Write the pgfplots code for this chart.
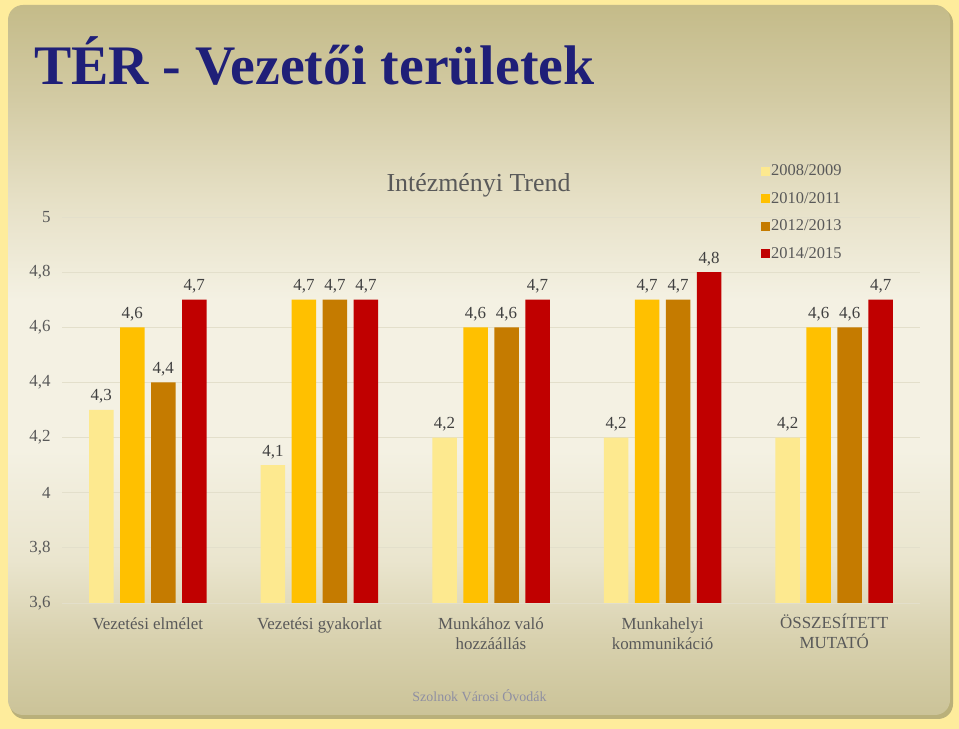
\documentclass[border=0pt]{standalone}
\usepackage{pgfplots}
\pgfplotsset{compat=1.18}
\usepackage{fontspec}
\setmainfont{Liberation Serif}
\definecolor{outerbg}{HTML}{FEEC9C}
\definecolor{shadowc}{HTML}{B9B07A}
\definecolor{pA}{HTML}{CBC398}
\definecolor{pB}{HTML}{D8D1AE}
\definecolor{pC}{HTML}{EAE5CE}
\definecolor{pD}{HTML}{F4F1E3}
\definecolor{pE}{HTML}{F4F1E3}
\definecolor{pF}{HTML}{E6E0C6}
\definecolor{pG}{HTML}{D3CBA4}
\definecolor{pH}{HTML}{C4BB89}
\pgfdeclareverticalshading{panel}{100bp}{color(0bp)=(pA); color(25bp)=(pA); color(30.3bp)=(pB); color(35.9bp)=(pC); color(43.7bp)=(pD); color(54.2bp)=(pE); color(61.3bp)=(pF); color(68.3bp)=(pG); color(75bp)=(pH); color(100bp)=(pH)}
\definecolor{cA}{HTML}{FDE98F}
\definecolor{cB}{HTML}{FFC000}
\definecolor{cC}{HTML}{C57B00}
\definecolor{cD}{HTML}{C00000}
\definecolor{titleblue}{HTML}{1F1F78}
\definecolor{txt}{HTML}{595959}
\definecolor{lbl}{HTML}{404040}
\definecolor{gridc}{HTML}{E3DFCB}
\definecolor{footc}{HTML}{8F8FA2}
\begin{document}
\begin{tikzpicture}[x=1bp,y=1bp]
\fill[outerbg] (0,0) rectangle (959,729);
\fill[shadowc, rounded corners=15bp] (10,10) rectangle (953,721);
\shade[shading=panel, rounded corners=15bp] (8,14) rectangle (950,724);
\node[anchor=base west, inner sep=0pt, text=titleblue, font=\fontsize{56}{60}\selectfont\bfseries] at (34,644) {TÉR - Vezetői területek};
\node[anchor=base, inner sep=0pt, text=txt, font=\fontsize{26}{30}\selectfont] at (478.5,537) {Intézményi Trend};
\node[anchor=base, inner sep=0pt, text=footc, font=\fontsize{14}{16}\selectfont] at (479.5,27) {Szolnok Városi Óvodák};
\begin{axis}[
  at={(62bp,126bp)}, anchor=south west,
  width=858bp, height=386bp, scale only axis,
  xmin=-0.5, xmax=4.5, ymin=3.6, ymax=5,
  axis line style={draw=none},
  major tick length=0pt,
  ytick={3.6,3.8,4,4.2,4.4,4.6,4.8,5},
  ymajorgrids, grid style={gridc, line width=0.8bp},
  /pgf/number format/assume math mode=true,
  /pgf/number format/use comma,
  /pgf/number format/fixed,
  /pgf/number format/precision=1,
  yticklabel style={text=txt, font=\fontsize{17}{20}\selectfont, xshift=-8bp},
  xtick={0,1,2,3,4},
  xticklabels={Vezetési elmélet, Vezetési gyakorlat, {Munkához való\\hozzáállás}, {Munkahelyi\\kommunikáció}, {\smash{Ö}SSZES\smash{Í}TETT\\MUTATÓ}},
  xticklabel style={text=txt, font=\fontsize{17}{20}\selectfont, align=center, anchor=north, yshift=-11bp},
  ybar, bar width=24.5bp,
  nodes near coords,
  every node near coord/.append style={text=lbl, font=\fontsize{17}{20}\selectfont, yshift=3bp, /pgf/number format/assume math mode=true, /pgf/number format/use comma, /pgf/number format/fixed, /pgf/number format/precision=1, /pgf/number format/fixed zerofill},
  legend image code/.code={\fill[#1] (0bp,-4.5bp) rectangle (9bp,4.5bp);},
  legend cell align=left,
  legend style={at={(0.8106,1.1477)}, anchor=north west, draw=none, fill=none,
    font=\fontsize{16.5}{19}\selectfont, text=txt, row sep=9.5bp,
    nodes={inner sep=1.5bp, text height=12bp, text depth=3bp}},
]
\addplot[fill=cA, draw=none, bar shift=-46.5bp] coordinates {(0,4.3) (1,4.1) (2,4.2) (3,4.2) (4,4.2)};
\addlegendentry{2008/2009}
\addplot[fill=cB, draw=none, bar shift=-15.5bp] coordinates {(0,4.6) (1,4.7) (2,4.6) (3,4.7) (4,4.6)};
\addlegendentry{2010/2011}
\addplot[fill=cC, draw=none, bar shift=15.5bp] coordinates {(0,4.4) (1,4.7) (2,4.6) (3,4.7) (4,4.6)};
\addlegendentry{2012/2013}
\addplot[fill=cD, draw=none, bar shift=46.5bp] coordinates {(0,4.7) (1,4.7) (2,4.7) (3,4.8) (4,4.7)};
\addlegendentry{2014/2015}
\end{axis}
\end{tikzpicture}
\end{document}
